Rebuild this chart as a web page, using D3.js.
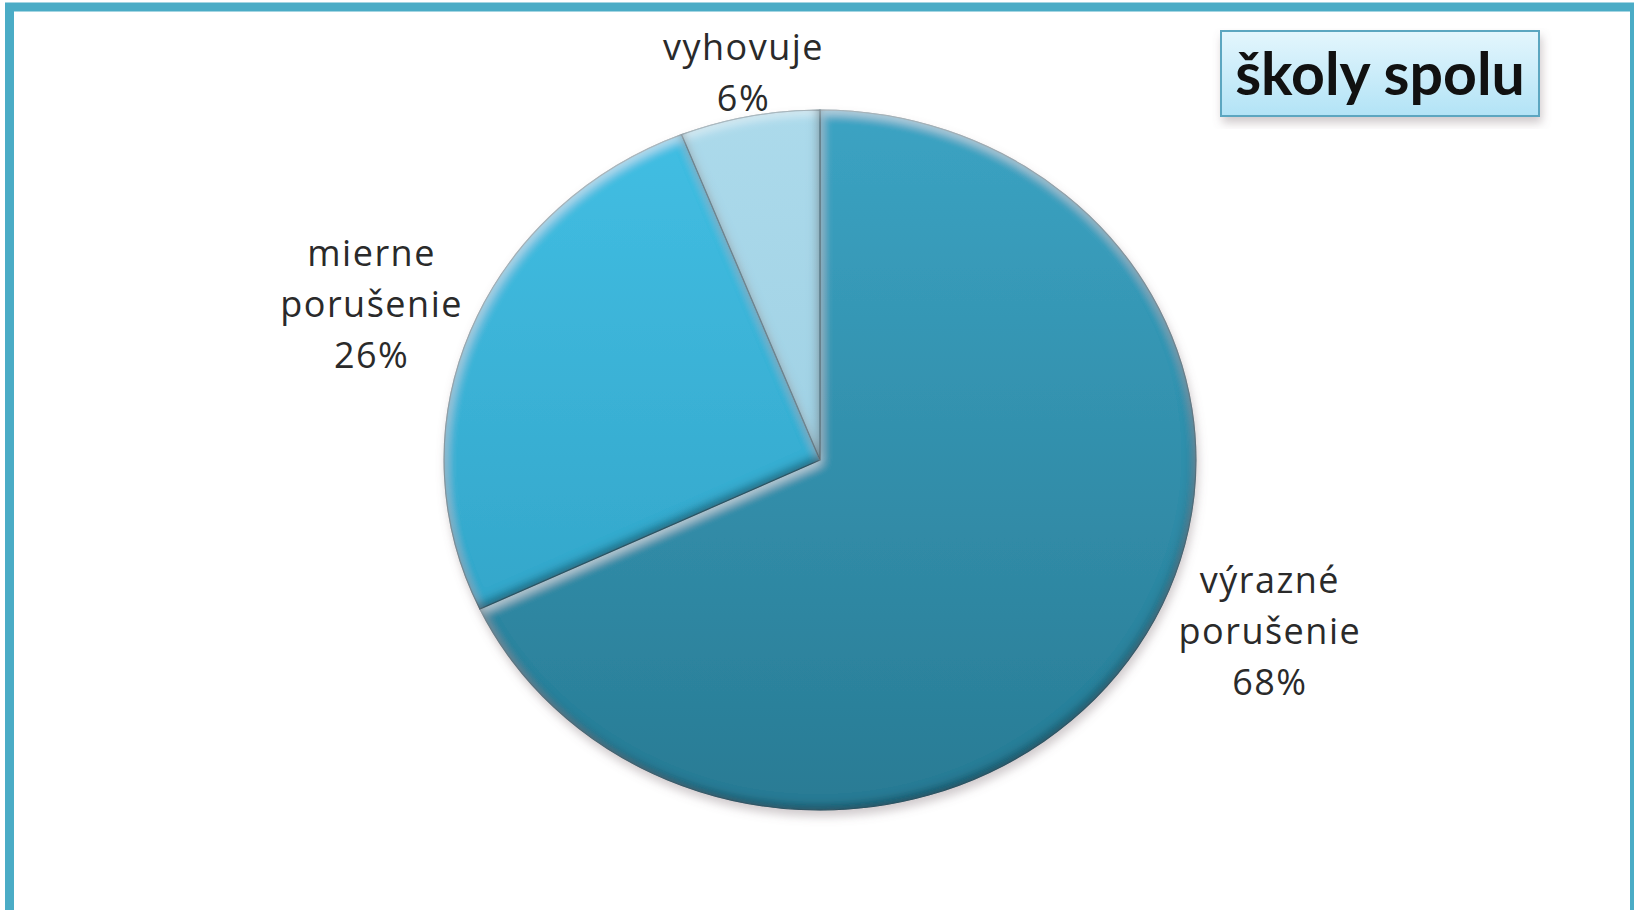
<!DOCTYPE html>
<html>
<head>
<meta charset="utf-8">
<script src="https://cdn.jsdelivr.net/npm/d3@7"></script>
<style>
  body { margin: 0; background: #fff; }
  svg { display: block; }
</style>
</head>
<body>
<svg id="chart"></svg>
<script>
// data
const categories = ["výrazné porušenie", "mierne porušenie", "vyhovuje"];
const labelLines = [["výrazné", "porušenie"], ["mierne", "porušenie"], ["vyhovuje"]];
const percents = [68, 26, 6];
const chartTitle = "školy spolu";

const width = 1634, height = 910;
const cx = 820, cy = 460;
const radius = 350;
const xStretch = 1.074;   // the original pie is a bit wider than tall

// gradient stops per slice (top, bottom)
const sliceColors = [
    ["#3ba3c3", "#297b94"],
    ["#42bfe4", "#2e9dc0"],
    ["#acdaeb", "#94c9de"]
];
// extra shift of each label block from the label arc centroid
const labelNudge = [[69, -53], [-29, 0], [8, 26]];

const svg = d3.select("#chart")
    .attr("width", width)
    .attr("height", height);

const defs = svg.append("defs");

sliceColors.forEach((c, i) => {
    const g = defs.append("linearGradient")
        .attr("id", "slice" + i)
        .attr("gradientUnits", "userSpaceOnUse")
        .attr("x1", 0).attr("y1", -radius)
        .attr("x2", 0).attr("y2", radius);
    g.append("stop").attr("offset", "0%").attr("stop-color", c[0]);
    g.append("stop").attr("offset", "100%").attr("stop-color", c[1]);
});

const tg = defs.append("linearGradient")
    .attr("id", "titleFill")
    .attr("x1", 0).attr("y1", 0).attr("x2", 0).attr("y2", 1);
tg.append("stop").attr("offset", "0%").attr("stop-color", "#e4f6fd");
tg.append("stop").attr("offset", "100%").attr("stop-color", "#b2e3f6");

// soft bevel: light on top-left edges, dark on bottom-right edges
const bevel = defs.append("filter").attr("id", "bevel")
    .attr("x", "-10%").attr("y", "-10%").attr("width", "120%").attr("height", "120%");
bevel.append("feComponentTransfer").attr("in", "SourceAlpha").attr("result", "inv")
    .append("feFuncA").attr("type", "table").attr("tableValues", "1 0");
bevel.append("feGaussianBlur").attr("in", "inv").attr("stdDeviation", 5).attr("result", "invBlur");
bevel.append("feOffset").attr("in", "invBlur").attr("dx", 2).attr("dy", 5).attr("result", "offHi");
bevel.append("feFlood").attr("flood-color", "#ffffff").attr("flood-opacity", 0.5).attr("result", "hiFlood");
bevel.append("feComposite").attr("in", "hiFlood").attr("in2", "offHi").attr("operator", "in").attr("result", "hiCol");
bevel.append("feComposite").attr("in", "hiCol").attr("in2", "SourceAlpha").attr("operator", "in").attr("result", "hi");
bevel.append("feOffset").attr("in", "invBlur").attr("dx", -2).attr("dy", -5).attr("result", "offSh");
bevel.append("feFlood").attr("flood-color", "#06303e").attr("flood-opacity", 0.75).attr("result", "shFlood");
bevel.append("feComposite").attr("in", "shFlood").attr("in2", "offSh").attr("operator", "in").attr("result", "shCol");
bevel.append("feComposite").attr("in", "shCol").attr("in2", "SourceAlpha").attr("operator", "in").attr("result", "sh");
const bm = bevel.append("feMerge");
bm.append("feMergeNode").attr("in", "SourceGraphic");
bm.append("feMergeNode").attr("in", "hi");
bm.append("feMergeNode").attr("in", "sh");

const shadow = defs.append("filter").attr("id", "shadow")
    .attr("x", "-10%").attr("y", "-10%").attr("width", "120%").attr("height", "125%");
shadow.append("feGaussianBlur").attr("in", "SourceAlpha").attr("stdDeviation", 5).attr("result", "b");
shadow.append("feOffset").attr("in", "b").attr("dx", 2).attr("dy", 6).attr("result", "o");
shadow.append("feFlood").attr("flood-color", "#7a6a70").attr("flood-opacity", 0.35).attr("result", "f");
shadow.append("feComposite").attr("in", "f").attr("in2", "o").attr("operator", "in").attr("result", "s");
const sm = shadow.append("feMerge");
sm.append("feMergeNode").attr("in", "s");
sm.append("feMergeNode").attr("in", "SourceGraphic");

// outer frame
svg.append("rect")
    .attr("x", 9.5).attr("y", 7)
    .attr("width", 1625).attr("height", 1000)
    .attr("fill", "none")
    .attr("stroke", "#4bacc6")
    .attr("stroke-width", 9);

// pie
const pie = d3.pie().sort(null).value(d => d);
const arcs = pie(percents);
const arc = d3.arc().innerRadius(0).outerRadius(radius);
const labelArc = d3.arc().innerRadius(radius * 1.2).outerRadius(radius * 1.2);

const pieG = svg.append("g")
    .attr("filter", "url(#shadow)")
    .append("g")
    .attr("transform", "translate(" + cx + "," + cy + ") scale(" + xStretch + ",1)");

pieG.selectAll("path.slice")
    .data(arcs)
    .enter().append("path")
    .attr("class", "slice")
    .attr("d", arc)
    .attr("fill", (d, i) => "url(#slice" + i + ")")
    .attr("stroke", "#24677c")
    .attr("stroke-width", 1)
    .attr("filter", "url(#bevel)");

// labels
const lineH = 51;
const labels = svg.append("g")
    .attr("font-family", "'Open Sans', Lato, sans-serif")
    .attr("font-size", 36)
    .attr("letter-spacing", 1.5)
    .attr("fill", "#2a2a2a")
    .attr("text-anchor", "middle");

arcs.forEach((d, i) => {
    const c = labelArc.centroid(d);
    const bx = cx + c[0] * xStretch + labelNudge[i][0];
    const by = cy + c[1] + labelNudge[i][1];
    const lines = labelLines[i].concat([percents[i] + "%"]);
    const t = labels.append("text").attr("x", bx).attr("y", by);
    lines.forEach((ln, k) => {
        t.append("tspan")
            .attr("x", bx)
            .attr("y", by + (k - (lines.length - 1) / 2) * lineH + 12)
            .text(ln);
    });
});

// title box
const titleG = svg.append("g");
titleG.append("rect")
    .attr("x", 1221).attr("y", 31)
    .attr("width", 318).attr("height", 85)
    .attr("fill", "url(#titleFill)")
    .attr("stroke", "#5ba6c0")
    .attr("stroke-width", 2)
    .attr("filter", "url(#shadow)");
titleG.append("text")
    .attr("x", 1380).attr("y", 95)
    .attr("text-anchor", "middle")
    .attr("font-family", "Lato, 'Open Sans', sans-serif")
    .attr("font-weight", "bold")
    .attr("font-size", 59)
    .attr("fill", "#111")
    .text(chartTitle);
</script>
</body>
</html>
